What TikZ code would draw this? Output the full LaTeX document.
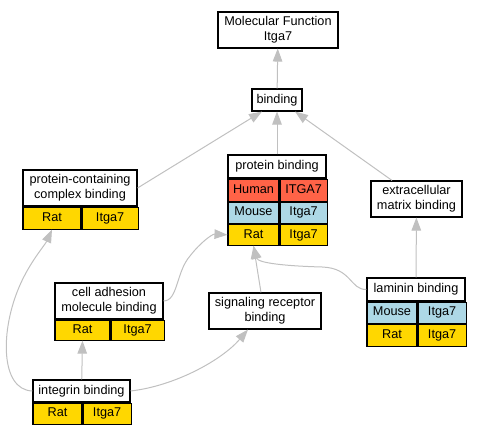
\documentclass[tikz,border=0pt]{standalone}
\usepackage{fontspec}
\setmainfont{Liberation Sans}
\usetikzlibrary{arrows.meta}

\definecolor{humancol}{HTML}{FF6347}
\definecolor{mousecol}{HTML}{ADD8E6}
\definecolor{ratcol}{HTML}{FFD700}
\definecolor{edgecol}{HTML}{C0C0C0}

\tikzset{
  box/.style={draw, line width=1.1pt, fill=white, inner sep=0pt, align=center,
    font=\fontsize{12.7}{15}\selectfont},
  cell/.style={box, anchor=north west, text height=9pt, text depth=2.5pt},
  human/.style={cell, fill=humancol},
  mouse/.style={cell, fill=mousecol},
  rat/.style={cell, fill=ratcol},
  edge/.style={draw=edgecol, line width=1pt, -{Triangle[length=13pt, width=9.5pt]}}
}

\begin{document}
\begin{tikzpicture}[x=1pt, y=-1pt]

\useasboundingbox (0,0) rectangle (480,435);

\def \titleh {23}

% terms
\node[box, minimum width=120pt, minimum height=36pt] (mf) at (278,30) {Molecular Function\\Itga7};
\node[box, minimum width=50pt, minimum height=22pt] (binding) at (277,100) {binding};

\node[box, minimum width=114pt, minimum height=36pt] (pcc) at (80,188) {protein-containing\\complex binding};
\node[rat, minimum width=58pt, minimum height=22pt] (pccrat) at (pcc.south west) {Rat};
\node[rat, minimum width=56pt, minimum height=22pt] (pccgene) at (pccrat.north east) {Itga7};

\node[box, minimum width=98pt, minimum height=\titleh pt] (pb) at (277,166.5) {protein binding};
\node[human, minimum width=51pt, minimum height=22pt] (pbhuman) at (pb.south west) {Human};
\node[human, minimum width=47pt, minimum height=22pt] (pbhumangene) at (pbhuman.north east) {ITGA7};
\node[mouse, minimum width=51pt, minimum height=21pt] (pbmouse) at (pbhuman.south west) {Mouse};
\node[mouse, minimum width=47pt, minimum height=21pt] (pbmousegene) at (pbmouse.north east) {Itga7};
\node[rat, minimum width=51pt, minimum height=21pt] (pbrat) at (pbmouse.south west) {Rat};
\node[rat, minimum width=47pt, minimum height=21pt] (pbratgene) at (pbrat.north east) {Itga7};

\node[box, minimum width=91pt, minimum height=36pt] (emb) at (416.5,199) {extracellular\\matrix binding};

\node[box, minimum width=98pt, minimum height=\titleh pt] (lam) at (416,289.5) {laminin binding};
\node[mouse, minimum width=50pt, minimum height=21pt] (lammouse) at (lam.south west) {Mouse};
\node[mouse, minimum width=48pt, minimum height=21pt] (lammousegene) at (lammouse.north east) {Itga7};
\node[rat, minimum width=50pt, minimum height=22pt] (lamrat) at (lammouse.south west) {Rat};
\node[rat, minimum width=48pt, minimum height=22pt] (lamratgene) at (lamrat.north east) {Itga7};

\node[box, minimum width=108pt, minimum height=36pt] (cam) at (109,301) {cell adhesion\\molecule binding};
\node[rat, minimum width=55pt, minimum height=20pt] (camrat) at (cam.south west) {Rat};
\node[rat, minimum width=53pt, minimum height=20pt] (camgene) at (camrat.north east) {Itga7};

\node[box, minimum width=112pt, minimum height=36pt] (srb) at (265,311) {signaling receptor\\binding};

\node[box, minimum width=97pt, minimum height=22pt] (int) at (81.5,391) {integrin binding};
\node[rat, minimum width=49pt, minimum height=21pt] (intrat) at (int.south west) {Rat};
\node[rat, minimum width=48pt, minimum height=21pt] (intgene) at (intrat.north east) {Itga7};

% is_a edges
\draw[edge] (binding) -- (mf);
\draw[edge] (pcc.east) -- ([xshift=-15pt]binding.south);
\draw[edge] (pb) -- (binding);
\draw[edge] ([xshift=-24.5pt]emb.north) -- ([xshift=18pt]binding.south);
\draw[edge] (lam) -- (emb);
\draw[edge] (lam.west) .. controls (350,290) and (352,268) .. (322,267) .. controls (285,266) and (258,263) .. (pbrat.south);
\draw[edge] ([xshift=-4pt]srb.north) -- (pbrat.south);
\draw[edge] (cam.east) .. controls (178,301) and (176,272) .. (190,256) .. controls (200,243) and (212,234) .. (pbrat.west);
\draw[edge] (int) -- (camrat.south);
\draw[edge] (int.east) .. controls (175,386) and (222,360) .. ([xshift=-17pt]srb.south);
\draw[edge] (int.west) .. controls (0,390) and (0,330) .. (20,285) .. controls (30,262) and (45,245) .. (pccrat.south);

\end{tikzpicture}
\end{document}
